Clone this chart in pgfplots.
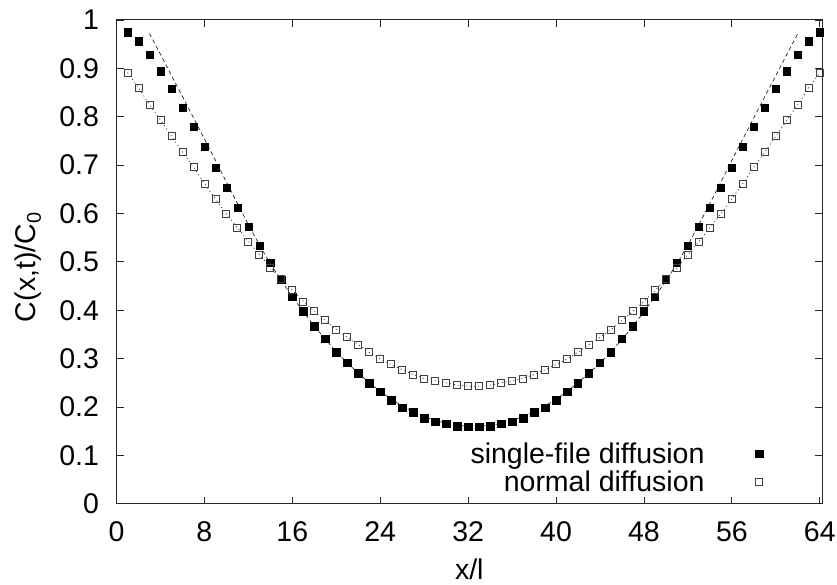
\documentclass[border=0pt]{standalone}
\usepackage{fontspec}
\setmainfont{Liberation Sans}
\usepackage{pgfplots}
\usepackage{pgfplotstable}
\pgfplotsset{compat=1.18}

\pgfplotstableread{
x y
1 0.975
2 0.956
3 0.928
4 0.894
5 0.858
6 0.819
7 0.779
8 0.738
9 0.695
10 0.654
11 0.612
12 0.573
13 0.533
14 0.498
15 0.463
16 0.428
17 0.398
18 0.367
19 0.341
20 0.313
21 0.291
22 0.270
23 0.249
24 0.231
25 0.214
26 0.199
27 0.189
28 0.177
29 0.170
30 0.165
31 0.160
32 0.159
33 0.159
34 0.160
35 0.165
36 0.170
37 0.177
38 0.189
39 0.199
40 0.214
41 0.231
42 0.249
43 0.270
44 0.291
45 0.313
46 0.341
47 0.367
48 0.398
49 0.428
50 0.463
51 0.498
52 0.533
53 0.573
54 0.612
55 0.654
56 0.695
57 0.738
58 0.779
59 0.819
60 0.858
61 0.894
62 0.928
63 0.956
64 0.975
}\singlefile

\pgfplotstableread{
x y
1 0.891
2 0.860
3 0.825
4 0.793
5 0.760
6 0.727
7 0.696
8 0.662
9 0.630
10 0.599
11 0.571
12 0.542
13 0.515
14 0.488
15 0.464
16 0.441
17 0.418
18 0.398
19 0.379
20 0.360
21 0.344
22 0.329
23 0.313
24 0.299
25 0.288
26 0.277
27 0.267
28 0.259
29 0.254
30 0.250
31 0.245
32 0.243
33 0.243
34 0.245
35 0.250
36 0.254
37 0.259
38 0.267
39 0.277
40 0.288
41 0.299
42 0.313
43 0.329
44 0.344
45 0.360
46 0.379
47 0.398
48 0.418
49 0.441
50 0.464
51 0.488
52 0.515
53 0.542
54 0.571
55 0.599
56 0.630
57 0.662
58 0.696
59 0.727
60 0.760
61 0.793
62 0.825
63 0.860
64 0.891
}\normaldiff

\pgfplotstableread{
x y
3 0.972
4 0.929
5 0.885
6 0.842
7 0.798
8 0.754
9 0.710
10 0.665
11 0.621
12 0.577
13 0.535
14 0.496
15 0.461
16 0.428
17 0.397
18 0.367
19 0.340
20 0.314
21 0.291
22 0.270
23 0.250
24 0.232
25 0.216
26 0.202
27 0.190
28 0.180
29 0.172
30 0.166
31 0.162
32 0.160
33 0.160
34 0.162
35 0.166
36 0.172
37 0.180
38 0.190
39 0.202
40 0.216
41 0.232
42 0.250
43 0.270
44 0.291
45 0.314
46 0.340
47 0.367
48 0.397
49 0.428
50 0.461
51 0.496
52 0.535
53 0.577
54 0.621
55 0.665
56 0.710
57 0.754
58 0.798
59 0.842
60 0.885
61 0.929
62 0.972
}\singletheory

\begin{document}
\begin{tikzpicture}
\begin{axis}[
  at={(116.5pt,81.3pt)}, anchor=south west,
  scale only axis, width=705.5pt, height=483.7pt,
  xmin=0, xmax=64.2, ymin=0, ymax=1,
  xtick={0,8,16,24,32,40,48,56,64},
  ytick={0,0.1,0.2,0.3,0.4,0.5,0.6,0.7,0.8,0.9,1},
  font=\fontsize{28.5}{34}\selectfont,
  /pgf/number format/assume math mode=true,
  /pgf/number format/fixed,
  tick align=inside, major tick length=7pt,
  axis line style={line width=1pt, black!85},
  every tick/.style={black!85, line width=0.8pt},
  xticklabel style={yshift=-14pt},
  yticklabel style={xshift=-14pt},
  xlabel={x/l},
  ylabel={C(x,t)/C\textsubscript{0}},
  xlabel style={at={(axis description cs:0.5,-0.136)}, anchor=center},
  ylabel style={at={(axis description cs:-0.1254,0.489)}, anchor=center},
  legend plot pos=right,
  legend cell align=right,
  legend style={draw=none, fill=none, at={(axis description cs:0.9206,0.1344)}, anchor=north east,
    font=\fontsize{28.5}{34}\selectfont, row sep=2.2pt},
]
\addplot[only marks, mark=square*, mark size=3.65pt, black]
  table[x=x,y=y] {\singlefile};
\addlegendentry{single-file diffusion\kern49pt}
\addplot[only marks, mark=square, mark size=3.5pt, black!75, mark options={line width=0.8pt}]
  table[x=x,y=y] {\normaldiff};
\addlegendentry{normal diffusion\kern49pt}
\addplot[forget plot, no marks, black!85, line width=0.7pt, dash pattern=on 4pt off 3pt] table[x=x,y=y] {\singletheory};
\addplot[forget plot, no marks, black!85, line width=0.7pt, dash pattern=on 1pt off 3pt] table[x=x,y=y] {\normaldiff};
\end{axis}
\pgfresetboundingbox
\path[use as bounding box] (0,0) rectangle (837pt,585pt);
\end{tikzpicture}
\end{document}
